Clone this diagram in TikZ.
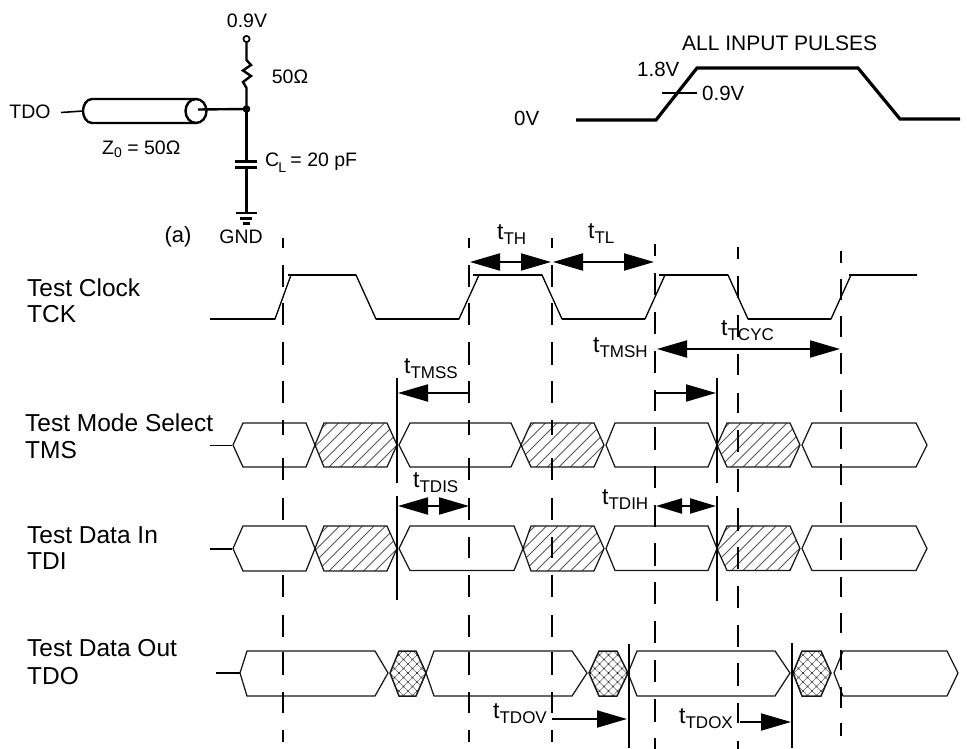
\documentclass[tikz,border=0pt]{standalone}
\usepackage{fontspec}
\setmainfont{Liberation Sans}
\usetikzlibrary{arrows.meta}
\newcommand{\fsz}[1]{\fontsize{#1pt}{#1pt}\selectfont}
\newcommand{\tlab}[1]{\fsz{23}t\raisebox{-5pt}{\fsz{17}#1}}
\tikzset{
  hexline/.style={line width=1.25pt,draw=black!90,fill=white,line join=miter},
  hatchline/.style={line width=0.8pt,draw=black!65},
  crossline/.style={line width=0.65pt,draw=black!60},
  clk/.style={line width=1.3pt,line join=miter},
  dashseg/.style={line width=2.1pt},
  solidmark/.style={line width=1.9pt},
  wire/.style={line width=2.4pt},
  pulse/.style={line width=3.2pt,line join=miter},
  rowlab/.style={anchor=base west,inner sep=0pt,font=\fsz{24.5}},
  clab/.style={anchor=center,inner sep=0pt,font=\fsz{19.5}},
  plab/.style={anchor=west,inner sep=0pt,font=\fsz{20.5}},
  tlabel/.style={anchor=base west,inner sep=0pt},
  dimline/.style={line width=2pt},
  bigtip/.tip={Triangle[length=30pt,width=17pt]},
  midtip/.tip={Triangle[length=26pt,width=15pt]},
}
\newcommand{\hexw}[7]{\draw[hexline] (#1,#6)--(#2,#5)--(#3,#5)--(#4,#6)--(#3,#7)--(#2,#7)--cycle;}
\newcommand{\hexh}[7]{%
  \fill[white] (#1,#6)--(#2,#5)--(#3,#5)--(#4,#6)--(#3,#7)--(#2,#7)--cycle;
  \begin{scope}
    \clip (#1,#6)--(#2,#5)--(#3,#5)--(#4,#6)--(#3,#7)--(#2,#7)--cycle;
    \foreach \k in {260,271.5,...,860}{\draw[hatchline] (\k,#7) -- ++(60,-60);}
  \end{scope}
  \draw[hexline,fill=none] (#1,#6)--(#2,#5)--(#3,#5)--(#4,#6)--(#3,#7)--(#2,#7)--cycle;}
\newcommand{\hexx}[7]{%
  \fill[white] (#1,#6)--(#2,#5)--(#3,#5)--(#4,#6)--(#3,#7)--(#2,#7)--cycle;
  \begin{scope}
    \clip (#1,#6)--(#2,#5)--(#3,#5)--(#4,#6)--(#3,#7)--(#2,#7)--cycle;
    \foreach \k in {-4,-3,...,4}{
      \draw[crossline] ({(#1+#4)/2+9*\k-30},#6-30) -- ++(60,60);
      \draw[crossline] ({(#1+#4)/2+9*\k+30},#6-30) -- ++(-60,60);
      \foreach \j in {-2,-1,0,1,2}{
        \fill ({(#1+#4)/2+9*\k},{#6+9*\j}) circle (0.95);
        \fill ({(#1+#4)/2+9*\k+4.5},{#6+9*\j+4.5}) circle (0.95);}}
  \end{scope}
  \draw[hexline,fill=none,line width=1.5pt] (#1,#6)--(#2,#5)--(#3,#5)--(#4,#6)--(#3,#7)--(#2,#7)--cycle;}
\newcommand{\dashes}[2]{\foreach \a/\b in {#2}{\draw[dashseg] (#1,\a)--(#1,\b);}}
\begin{document}
\begin{tikzpicture}[x=1pt,y=-1pt]
\useasboundingbox (0,0) rectangle (967,749);
% ---------- circuit
\coordinate (vtop) at (246.5,39);
\coordinate (jn) at (246.5,109);
\coordinate (capA) at (246.5,161);
\coordinate (capB) at (246.5,168);
\coordinate (gnd) at (246.5,213);
\coordinate (cabL) at (83,111);
\coordinate (cabE) at (198,109.5);
\coordinate (tdoS) at (61,112.5);
\draw[wire] (vtop) -- (246.5,60) -- (251,65) -- (243,70.5) -- (251,76) -- (243,82) -- (246.5,88) -- (jn);
\draw[line width=1.7pt,fill=white] (vtop) circle (3.1);
\draw[wire] (jn) -- (capA);
\draw[wire] (capB) -- (gnd);
\draw[wire] (235,161.5) -- (257,161.5);
\draw[wire] (235,167.5) -- (257,167.5);
\draw[wire] (236,213) -- (257,213);
\draw[wire] (240,218.5) -- (252,218.5);
\draw[wire] (243,223.5) -- (250,223.5);
\draw[line width=1.6pt] (tdoS) -- (cabL);
\draw[wire] (196,99) -- (92,99) .. controls (86,99) and (83,106) .. (cabL) .. controls (83,116) and (86,123) .. (92,123) -- (196,123);
\draw[wire] (196,111) ellipse (10.5 and 12);
\draw[wire] (cabE) -- (jn);
\fill (jn) circle (3.8);
\node[clab] (l09) at (247,21) {0.9V};
\node[clab] (l50) at (290,77) {50Ω};
\node[clab] (ltdo) at (30,112) {TDO};
\node[clab,anchor=base west] (lz0) at (102,155) {Z\raisebox{-3pt}{\fsz{14}0} = 50Ω};
\node[clab,anchor=base west] (lcl) at (265,167) {C\kern-1pt\raisebox{-6pt}{\fsz{14}L}\kern-1pt{} = 20 pF};
\node[clab,font=\fsz{22}] (la) at (178,237) {(a)};
\node[clab] (lgnd) at (241,237) {GND};
% ---------- pulse
\coordinate (pa) at (576,120);
\coordinate (pb) at (960,119);
\draw[pulse] (pa) -- (656,120) -- (697,68) -- (858,68) -- (900,119) -- (pb);
\draw[line width=1.5pt] (662,93) -- (697,93);
\node[plab] (p0) at (514,118) {0V};
\node[plab] (p18) at (637,69) {1.8V};
\node[plab] (p09) at (702,93) {0.9V};
\node[plab,font=\fsz{21}] (pall) at (682,43) {ALL INPUT PULSES};
% ---------- clock
\draw[clk] (210,319) -- (275,319) -- (291,275) -- (356,275) -- (376,319) -- (459,319) -- (479,275) -- (542,275) -- (562,319) -- (645,319) -- (665,275) -- (728,275) -- (748,319) -- (831,319) -- (851,275) -- (917,275);
\foreach \a/\b/\y in {210/275/319,288/356/275,376/459/319,473/542/275,562/645/319,659/728/275,748/831/319,849/917/275}{\draw[line width=1.8pt] (\a,\y)--(\b,\y);}
% ---------- TMS
\draw[solidmark] (210,445.5) -- (232,445.5);
\hexw{233}{243}{306}{315}{423}{445}{467}
\hexh{315}{324}{387}{397}{423}{445}{467}
\hexw{399}{410}{511}{521}{423}{445}{467}
\hexh{521}{531}{594}{604}{423}{445}{467}
\hexw{606}{615}{708}{717}{423}{445}{467}
\hexh{717}{727}{790}{800}{423}{445}{467}
\hexw{802}{812}{916}{927}{423}{445}{467}
% ---------- TDI
\draw[solidmark] (210,549) -- (232,549);
\hexw{233}{243}{306}{315}{526}{548.5}{571}
\hexh{315}{324}{387}{397}{526}{548.5}{571}
\hexw{399}{410}{514}{523}{526}{548.5}{570.5}
\hexh{523}{531}{594}{604}{526}{548.5}{571}
\hexw{606}{615}{708}{717}{526}{548.5}{570.5}
\hexh{717}{727}{790}{800}{526}{548.5}{570.5}
\hexw{802}{812}{916}{927}{526}{548.5}{570.5}
% ---------- TDO
\draw[solidmark] (216,673) -- (240,673);
\hexw{240}{247}{375}{388}{651}{673}{696}
\hexx{390}{399}{416}{426}{651}{673}{696}
\hexw{426}{434}{572}{587}{651}{673}{696}
\hexx{589}{599}{617}{628}{651}{673}{696}
\hexw{628}{637}{775}{790}{651}{673}{696}
\hexx{793}{802}{821}{831}{651}{673}{696}
\hexw{834}{843}{947}{958}{651}{673}{696}
% ---------- dashed guides
\dashes{283}{238/248,265/287,303/325,342/365,381/403,420/435,458/480,498/520,575/597,615/637,652/675,692/713,730/742}
\dashes{469}{238/248,265/287,303/325,342/365,381/403,420/435,458/480,498/520,537/558,575/597,615/637,652/675,692/713,730/742}
\dashes{552}{238/248,265/287,303/325,342/365,381/403,420/435,458/480,498/520,537/558,575/597,615/637,652/675,692/713,730/742}
\dashes{655}{244/256,273/295,312/334,351/373,390/411,427/450,466/488,505/527,543/566,582/604,621/643,660/682,699/722,738/749}
\dashes{738}{247/259,276/298,315/337,354/375,393/413,430/452,469/492,508/531,547/569,586/608,625/647,663/686,703/723,741/749}
\dashes{841}{251/263,279/300,316/337,353/374,390/412,427/449,464/485,502/523,538/560,577/597,613/633,650/670,687/708,723/736}
% ---------- solid guides
\foreach \x/\a/\b in {397/378/483,397/496/600,717/378/483,717/496/601,629/644/748,792/643/748}{\draw[solidmark] (\x,\a)--(\x,\b);}
% ---------- dimension arrows
\coordinate (th1) at (470,262); \coordinate (th2) at (551,262);
\coordinate (tl1) at (553,262); \coordinate (tl2) at (654,262);
\coordinate (cy1) at (657,349); \coordinate (cy2) at (840,349);
\coordinate (mh1) at (655,393); \coordinate (mh2) at (716,393);
\coordinate (ms1) at (398,393); \coordinate (ms2) at (469,393);
\coordinate (ds1) at (398,506); \coordinate (ds2) at (469,506);
\coordinate (dh1) at (656,506); \coordinate (dh2) at (716,506);
\coordinate (ov1) at (552,719); \coordinate (ov2) at (627,719);
\coordinate (ox1) at (740,722); \coordinate (ox2) at (791,722);
\draw[dimline,{bigtip}-{bigtip}] (th1) -- (th2);
\draw[dimline,{bigtip}-{bigtip}] (tl1) -- (tl2);
\draw[dimline,{bigtip}-{bigtip}] (cy1) -- (cy2);
\draw[dimline,-{bigtip}] (mh1) -- (mh2);
\draw[dimline,{bigtip}-] (ms1) -- (ms2);
\draw[dimline,{bigtip}-{bigtip}] (ds1) -- (ds2);
\draw[dimline,{midtip}-{midtip}] (dh1) -- (dh2);
\draw[dimline,-{bigtip}] (ov1) -- (ov2);
\draw[dimline,-{bigtip}] (ox1) -- (ox2);
% ---------- time labels
\node[tlabel] (t1) at (497,240) {\tlab{TH}};
\node[tlabel] (t2) at (588,238) {\tlab{TL}};
\node[tlabel] (t3) at (721,335) {\tlab{TCYC}};
\node[tlabel] (t4) at (593,352) {\tlab{TMSH}};
\node[tlabel] (t5) at (404,373) {\tlab{TMSS}};
\node[tlabel] (t6) at (413,487) {\tlab{TDIS}};
\node[tlabel] (t7) at (602,504) {\tlab{TDIH}};
\node[tlabel] (t8) at (493,718) {\tlab{TDOV}};
\node[tlabel] (t9) at (679,723) {\tlab{TDOX}};
% ---------- row labels
\node[rowlab] (r1) at (27,296) {Test Clock};
\node[rowlab] (r2) at (27,322) {TCK};
\node[rowlab] (r3) at (25,431) {Test Mode Select};
\node[rowlab] (r4) at (25,458) {TMS};
\node[rowlab] (r5) at (27,543) {Test Data In};
\node[rowlab] (r6) at (27,569) {TDI};
\node[rowlab] (r7) at (27,656) {Test Data Out};
\node[rowlab] (r8) at (27,684) {TDO};
\end{tikzpicture}
\end{document}
